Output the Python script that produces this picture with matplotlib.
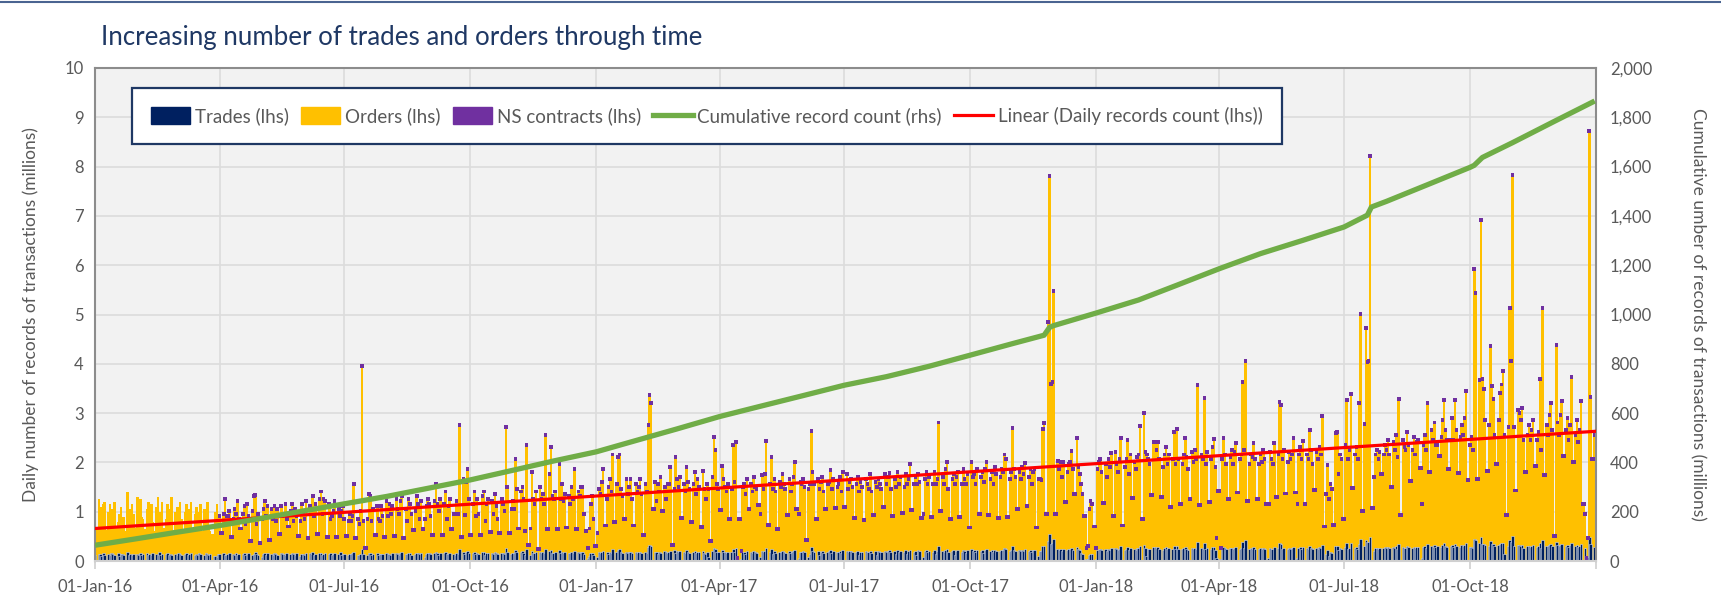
import numpy as np
import pandas as pd
import matplotlib
matplotlib.use("Agg")
import matplotlib.pyplot as plt
import matplotlib.dates as mdates
from matplotlib.patches import Patch
from matplotlib.lines import Line2D
from matplotlib.ticker import MultipleLocator, FuncFormatter

plt.rcParams['font.family'] = ['Lato', 'DejaVu Sans']

# daily records count on business days (millions), one sub-list per month
total_2016 = [
    [0.7,1.25,1.1,0.9,1.15,1.2,1.0,1.15,0.85,1.05,1.2,0.8,0.95,1.1,0.75,0.9,1.4,1.05,0.9,1.15,0.95],
    [1.3,1.0,1.25,0.9,0.85,1.05,1.2,0.95,1.15,0.8,1.1,1.3,0.9,1.0,1.2,0.85,1.15,1.05,0.9,1.3,1.0],
    [1.1,0.95,1.2,0.85,1.0,1.15,0.9,1.05,1.2,0.95,1.1,0.8,1.0,1.15,1.05,0.9,1.2,0.7,0.6,0.5,1.0,1.15,0.95],
    [0.95,1.0,1.3,0.95,0.95,1.05,0.9,1.1,1.0,1.25,0.9,1.0,1.15,0.8,1.2,0.95,1.05,1.35,1.38,0.8,1.0],
    [0.9,1.1,1.25,0.95,1.15,1.1,0.9,1.15,0.85,1.1,1.15,0.95,1.0,1.2,0.9,1.05,1.2,0.85,1.1,0.95,0.85,1.2],
    [1.0,0.9,1.25,1.15,1.1,1.35,0.95,1.2,1.3,1.45,1.0,1.3,1.25,1.2,0.9,0.95,1.05,1.25,1.1,0.95,1.05,1.15],
    [0.9,0.85,1.0,0.85,0.95,1.6,0.9,0.8,1.05,4.0,0.85,0.9,1.4,1.35,0.85,1.1,1.15,0.9,0.85,1.15,0.95],
    [1.25,0.95,1.2,1.0,1.15,1.3,1.1,1.0,1.25,1.35,1.1,0.85,1.3,1.2,1.0,1.05,1.35,1.2,0.9,1.25,0.9,1.15,1.3],
    [1.2,0.95,1.25,1.6,1.2,1.05,1.3,1.2,1.45,0.9,1.15,1.3,1.0,1.0,1.25,1.0,2.8,1.7,0.98,1.65,1.9,1.3],
    [1.2,1.45,0.95,1.3,1.0,1.35,1.45,0.85,1.2,1.3,1.25,1.0,1.4,1.15,0.9,1.3,1.2,1.05,2.75,1.55,1.1],
    [1.25,1.1,2.1,1.5,1.45,1.55,1.3,0.65,2.4,0.7,1.85,1.3,1.2,1.45,1.55,1.3,1.4,1.2,2.6,1.8,2.35,1.35],
    [1.3,1.45,2.0,1.3,1.6,1.25,1.4,1.35,1.2,1.55,1.3,1.9,1.45,1.35,1.55,1.55,1.0,0.3,0.7,1.2,1.35,0.9],
]
total_2017 = [
    [0.6,1.5,1.4,1.65,1.9,1.3,1.55,1.7,1.45,2.2,1.6,2.15,2.2,1.5,1.35,1.7,1.4,1.55,1.7,1.3,1.6,1.45],
    [1.55,1.7,1.4,1.6,1.45,2.8,3.4,3.25,1.65,1.25,1.6,1.45,1.75,1.55,1.3,1.6,1.6,1.95,1.5,2.15],
    [1.7,1.55,1.75,1.6,1.45,1.94,1.65,1.5,1.6,1.85,1.4,1.7,1.55,1.86,1.5,1.3,1.6,1.5,1.75,2.55,2.3,1.6,1.5],
    [1.96,1.7,1.55,1.45,1.6,1.5,2.4,1.65,2.45,0.1,0.25,1.55,1.6,1.4,1.7,1.6,1.45,1.75,1.55,1.5],
    [1.0,1.78,1.5,1.81,2.47,1.6,2.15,1.5,1.7,1.45,1.65,1.55,1.8,1.6,1.5,1.7,1.45,1.6,1.75,2.05,1.0,1.65,1.6],
    [1.7,1.55,1.5,1.6,2.67,1.85,1.6,1.7,1.5,1.65,1.75,1.45,1.6,1.65,1.88,1.5,1.7,1.55,1.6,1.75,1.45,1.85],
    [1.81,1.5,1.65,1.7,1.55,1.6,1.75,1.45,1.65,1.55,1.7,1.6,1.5,1.8,1.45,1.65,1.55,1.7,1.6,1.5,1.8],
    [1.6,1.75,1.83,1.5,1.7,1.55,1.85,1.6,1.75,1.55,1.8,1.6,1.7,2.0,1.6,1.75,1.6,1.8,1.65,1.0,1.7,1.85,1.6],
    [1.75,1.6,1.85,1.6,1.7,2.85,1.75,1.6,1.9,2.05,1.5,1.7,1.8,1.6,1.75,1.85,1.6,1.9,1.7,1.6,1.8],
    [2.05,1.75,1.8,1.6,1.9,1.75,1.85,1.65,1.9,2.05,1.7,1.85,1.6,1.95,1.8,1.75,1.9,1.85,2.2,2.1,1.7,1.85],
    [2.73,1.9,1.75,1.85,1.7,1.95,1.8,2.02,1.75,1.9,1.6,1.85,1.9,1.7,1.7,1.68,2.72,2.83,4.88,7.85,3.64,3.68],
    [5.51,2.07,1.9,2.05,1.75,2.05,1.85,2.0,2.05,2.27,1.9,2.54,1.95,1.8,1.6,1.4,0.3,0.35,1.1,1.25,1.2],
]
total_2018 = [
    [0.3,1.9,2.04,2.1,1.85,2.0,1.75,2.1,1.95,2.24,2.26,2.0,1.85,2.1,2.54,1.95,2.1,2.5,1.8,2.2,2.05,1.9,2.15],
    [2.2,2.77,3.04,2.26,2.2,2.1,2.0,2.46,2.45,2.3,2.46,2.1,1.95,2.2,2.35,2.0,2.2,2.1,2.66,2.0],
    [2.72,2.1,2.0,2.2,2.53,2.15,1.9,2.25,2.05,2.3,2.1,3.61,2.2,2.1,3.34,2.0,2.25,2.1,2.35,2.52,1.95,0.5],
    [0.3,2.1,2.53,2.2,2.0,2.15,2.3,2.0,2.25,2.43,2.1,2.2,3.68,2.3,4.1,2.0,2.2,2.15,2.43,2.1,2.0],
    [2.2,2.05,2.3,2.1,1.2,2.25,2.1,2.0,2.44,2.2,3.27,3.2,2.1,2.3,2.05,2.25,2.1,2.2,2.53,1.2,2.2,2.35,2.1],
    [2.48,2.2,2.1,2.7,2.3,2.0,2.25,2.1,2.35,2.2,2.99,1.4,1.99,1.3,1.6,1.5,2.63,2.66,1.8,2.2,2.1],
    [2.4,3.31,2.1,2.3,3.42,2.2,2.35,2.1,3.25,5.05,2.81,4.76,4.07,4.1,8.25,1.74,2.2,2.3,2.1,2.25,2.2,2.4],
    [2.3,2.5,2.2,2.45,2.3,2.6,2.15,3.33,2.5,2.35,2.3,2.65,2.4,2.3,2.55,2.2,2.45,2.5,1.2,2.4,2.6,2.3,3.25],
    [2.7,2.5,2.85,2.4,2.4,2.55,2.9,3.3,2.7,2.5,2.5,2.95,2.5,3.3,2.7,2.55,2.8,2.6,2.95,3.49],
    [2.4,2.55,2.3,5.96,5.47,3.72,6.95,3.74,3.52,2.9,2.8,4.4,3.59,3.32,2.6,2.9,3.45,3.62,3.9,2.6,2.75,5.18,4.1],
    [7.86,2.76,3.1,3.05,2.9,3.15,2.5,2.6,2.8,2.5,2.7,2.9,2.5,2.65,3.74,2.3,5.18,2.8,2.6,3.0,3.25,2.7],
    [4.42,2.85,2.6,3.0,3.28,2.7,2.95,2.5,2.8,3.77,2.6,2.9,2.45,2.7,3.28,1.0,0.1,0.5,8.77,3.37,2.6],
]

# weekend records count (millions), one value per Saturday (used for Sat and Sun)
weekend_2016 = [
    [0.65,0.62,0.68,0.6,0.66], [0.64,0.6,0.67,0.63], [0.62,0.66,0.6,0.55],
    [0.6,0.53,0.7,0.44,0.4], [0.46,0.59,0.74,0.54], [0.5,0.59,0.53,0.53],
    [0.55,0.5,0.3,0.57,0.53], [0.55,0.51,0.66,0.69], [0.56,0.57,0.69,0.52],
    [0.56,0.57,0.63,0.61,0.6], [0.7,0.36,0.29,0.69], [0.69,0.72,0.68,0.65,0.35],
]
weekend_2017 = [
    [0.76,0.83,0.89,0.76], [0.57,1.1,1.05,0.37], [0.92,0.83,0.73,0.45],
    [1.07,0.9,0.9,1.1,1.17], [0.78,0.68,0.97,1.1], [0.46,0.9,1.1,1.12],
    [1.14,0.92,0.88,0.97,1.14], [0.95,1.02,1.07,0.92], [0.94,1.05,0.9,0.94,0.72],
    [0.99,0.97,0.92,0.94], [1.09,1.16,0.72,1.0], [1.0,1.23,1.4,0.95,0.74],
]
weekend_2018 = [
    [1.21,0.95,0.76,1.31], [0.9,1.37,1.33,1.13], [1.2,1.3,1.17,1.23,1.46],
    [1.3,1.43,1.26,1.3], [1.2,1.33,1.41,1.43], [1.2,1.48,0.74,0.77,0.9],
    [1.52,1.05,1.12,1.81], [1.54,0.98,1.67,1.93], [1.84,2.17,1.9,1.83,1.68],
    [1.7,1.86,2.0,0.97], [1.47,1.84,1.96,1.79], [0.54,2.17,2.05,1.2,2.1],
]

# trades on business days (hundredths of a million), same layout as the totals
trades_2016 = [
    [12,15,14,11,16,13,15,12,17,14,13,16,11,15,14,12,18,13,15,12,14],
    [15,13,16,12,14,17,13,15,12,16,14,13,18,12,15,14,16,13,15,12,14],
    [13,16,14,12,15,17,13,14,16,12,15,13,17,14,12,16,14,13,15,11,10,8,14],
    [14,16,13,12,15,17,14,13,16,12,15,14,17,13,15,16,12,14,18,15,13],
    [9,15,17,12,16,14,13,16,15,12,17,14,15,13,16,14,17,15,13,16,10,15],
    [15,13,17,16,14,18,12,15,16,17,13,15,16,14,17,13,15,16,14,18,12,15],
    [14,13,15,14,16,19,13,12,15,25,14,13,17,16,12,15,16,13,14,15,14],
    [16,14,15,12,16,17,15,13,16,18,15,14,17,16,12,15,17,16,14,16,8,15,17],
    [16,14,17,19,16,13,17,16,18,14,15,17,15,13,16,15,24,19,14,18,20,16],
    [17,19,15,17,14,18,19,13,16,17,16,15,18,16,14,17,16,15,26,19,15],
    [17,16,22,19,18,20,17,12,25,13,21,17,16,18,19,17,18,16,24,20,23,17],
    [17,18,22,16,19,17,18,17,16,19,17,21,18,17,19,19,14,6,10,16,17,13],
]
trades_2017 = [
    [9,18,17,19,21,18,15,19,17,24,18,23,24,18,16,19,17,18,19,16,18,17],
    [18,19,17,18,17,28,32,31,18,19,14,18,17,20,18,16,18,20,22,17],
    [20,18,20,19,17,22,19,17,18,21,16,19,18,21,17,14,19,8,20,27,24,19,18],
    [22,19,18,17,19,18,25,19,26,3,5,18,19,15,20,19,17,20,18,17],
    [8,20,18,21,27,19,24,14,20,17,19,18,21,19,17,20,17,19,21,23,7,19,18],
    [20,18,9,15,29,21,19,20,13,19,21,17,19,20,22,17,20,18,19,21,17,22],
    [21,18,20,20,18,19,21,12,19,18,20,19,18,21,17,20,13,20,19,18,21],
    [19,21,22,18,20,15,22,19,21,18,22,14,20,23,19,21,13,22,20,8,20,22,19],
    [21,19,22,15,20,31,21,19,22,24,18,20,22,13,21,22,19,23,20,16,22],
    [24,21,22,19,23,21,22,16,23,24,20,22,19,23,21,21,23,22,26,25,20,22],
    [30,23,21,22,20,23,21,24,21,23,19,22,23,10,20,20,30,31,40,55,35,36],
    [45,24,23,25,21,24,22,24,25,27,23,29,24,22,16,14,4,5,13,15,14],
]
trades_2018 = [
    [4,23,24,25,22,24,21,25,23,26,27,24,22,25,30,23,25,29,22,26,24,23,26],
    [26,31,33,27,11,25,24,29,28,27,29,25,23,26,28,24,26,25,31,24],
    [31,25,24,26,29,25,23,27,24,27,25,38,26,25,36,24,27,25,28,29,23,7],
    [4,25,29,26,24,26,27,24,27,28,25,26,38,27,42,24,26,25,28,25,24],
    [26,24,27,25,7,27,25,24,28,26,36,35,25,27,24,27,25,26,29,7,26,28,25],
    [29,26,25,31,27,24,27,25,28,26,33,14,23,10,18,16,30,31,22,26,25],
    [28,36,25,27,37,26,28,25,35,45,31,42,38,39,48,21,26,27,25,27,26,28],
    [27,29,26,28,27,30,25,35,29,27,26,30,28,27,29,26,28,29,7,28,30,27,34],
    [31,29,32,28,30,29,32,36,31,29,30,33,29,35,31,29,32,30,33,37],
    [28,29,27,45,42,36,48,35,34,32,31,40,35,34,30,32,35,36,37,14,31,43,38],
    [50,31,33,32,31,33,27,30,31,28,30,32,29,30,36,27,42,31,30,33,34,31],
    [39,32,30,33,34,31,33,29,32,37,30,32,28,31,34,26,3,8,48,35,29],
]

# NS contracts per day (millions), one value per month
ns_monthly = [0, 0, 0] + [0.08] * 33

# cumulative record count (rhs, millions)
cum_dates = ['2016-01-01', '2016-02-01', '2016-03-01', '2016-04-01', '2016-05-01', '2016-06-01',
             '2016-07-01', '2016-08-01', '2016-09-01', '2016-10-01', '2016-11-01', '2016-12-01',
             '2017-01-01', '2017-02-01', '2017-03-01', '2017-04-01', '2017-05-01', '2017-06-01',
             '2017-07-01', '2017-08-01', '2017-09-01', '2017-10-01', '2017-11-01', '2017-11-24',
             '2017-11-28', '2017-12-01', '2018-01-01', '2018-02-01', '2018-03-01', '2018-04-01',
             '2018-05-01', '2018-06-01', '2018-07-01', '2018-07-18', '2018-07-21', '2018-08-01',
             '2018-09-01', '2018-10-01', '2018-10-04', '2018-10-10', '2018-11-01', '2018-12-01',
             '2018-12-31']
cum_values = [64, 91, 117, 144, 173, 203, 232, 262, 296, 329, 368, 406,
              443, 492, 536, 586, 628, 671, 713, 748, 790, 835, 882, 916,
              948, 955, 1006, 1059, 1119, 1186, 1247, 1301, 1355, 1403, 1436, 1459,
              1529, 1597, 1605, 1637, 1697, 1782, 1866]

# linear trend of daily records count (lhs)
trend_dates = ['2016-01-01', '2018-12-31']
trend_values = [0.66, 2.63]

years = [2016, 2017, 2018]
totals = [total_2016, total_2017, total_2018]
trades = [trades_2016, trades_2017, trades_2018]
weekends = [weekend_2016, weekend_2017, weekend_2018]

rows = []
for yi, yr in enumerate(years):
    for m in range(12):
        start = pd.Timestamp(yr, m + 1, 1)
        end = start + pd.offsets.MonthEnd(0)
        ns = ns_monthly[yi * 12 + m]
        days = pd.bdate_range(start, end)
        for d, v, t in zip(days, totals[yi][m], trades[yi][m]):
            rows.append((d, v, t / 100, ns))
        sats = pd.date_range(start, end, freq='W-SAT')
        for s, v in zip(sats, weekends[yi][m]):
            rows.append((s, v, 0.0, ns))
            rows.append((s + pd.Timedelta(days=1), v, 0.0, ns))

df = pd.DataFrame(rows, columns=['date', 'total', 'trades', 'ns']).sort_values('date')
df['orders'] = (df['total'] - df['trades'] - df['ns']).clip(lower=0)
x = mdates.date2num(df['date'])

navy = '#002060'
gold = '#FFC000'
purple = '#7030A0'
green = '#70AD47'
red = '#FF0000'
grey_txt = '#595959'

fig = plt.figure(figsize=(17.21, 5.99), dpi=100)
ax = fig.add_axes([0.0552, 0.0634, 0.8722, 0.8231])
ax.set_facecolor('#F2F2F2')

w = 2.0
ax.bar(x, df['orders'], bottom=df['trades'], width=w, color=gold, linewidth=0)
ax.bar(x, df['trades'], width=w, color=navy, edgecolor='#DDE3EE', linewidth=0.4)
ax.bar(x, df['ns'], bottom=df['trades'] + df['orders'], width=2.6, color=purple, linewidth=0)
ax.plot(mdates.date2num(pd.to_datetime(trend_dates)), trend_values, color=red, lw=2.3, zorder=5)

ax.set_xlim(mdates.date2num(pd.Timestamp('2016-01-01')), mdates.date2num(pd.Timestamp('2019-01-01')))
ax.set_ylim(0, 10)
ax.yaxis.set_major_locator(MultipleLocator(1))
qticks = pd.date_range('2016-01-01', '2019-01-01', freq='QS')
ax.set_xticks(mdates.date2num(qticks))
ax.set_xticklabels([d.strftime('%d-%b-%y') for d in qticks[:-1]] + [''])
ax.grid(True, color='#DCDCDC', lw=1.2)
ax.set_axisbelow(True)
ax.tick_params(axis='y', length=0, labelsize=12, labelcolor=grey_txt, pad=8)
ax.tick_params(axis='x', length=6, color='#D0D0D0', width=1.2, labelsize=12, labelcolor=grey_txt, pad=7)
for s in ['left', 'top', 'right']:
    ax.spines[s].set_color('#8C8C8C')
    ax.spines[s].set_linewidth(1.5)
ax.spines['bottom'].set_color('#D0D0D0')
ax.spines['bottom'].set_linewidth(1.5)
ax.set_ylabel('Daily number of records of transactions (millions)', fontsize=12.5, color=grey_txt)
ax.yaxis.set_label_coords(-0.037, 0.5)

ax2 = ax.twinx()
ax2.plot(mdates.date2num(pd.to_datetime(cum_dates)), cum_values, color=green, lw=3.8,
         solid_capstyle='butt', solid_joinstyle='round')
ax2.set_ylim(0, 2000)
ax2.yaxis.set_major_locator(MultipleLocator(200))
ax2.yaxis.set_major_formatter(FuncFormatter(lambda v, p: f'{int(v):,}'))
ax2.tick_params(axis='y', length=0, labelsize=12, labelcolor=grey_txt, pad=10)
for s in ax2.spines.values():
    s.set_visible(False)
ax2.set_ylabel('Cumulative umber of records of transactions (millions)', fontsize=12.5,
               color=grey_txt, rotation=270, va='bottom')
ax2.yaxis.set_label_coords(1.0626, 0.5)

handles = [Patch(color=navy), Patch(color=gold), Patch(color=purple),
           Line2D([], [], color=green, lw=3.8), Line2D([], [], color=red, lw=2.3)]
labels = ['Trades (lhs)', 'Orders (lhs)', 'NS contracts (lhs)',
          'Cumulative record count (rhs)', 'Linear (Daily records count (lhs))']
leg = ax2.legend(handles, labels, loc='upper left', bbox_to_anchor=(0.0247, 0.959), ncol=5,
                 borderaxespad=0, fontsize=13.5, frameon=True, fancybox=False, framealpha=1,
                 borderpad=1.0, handlelength=2.1, handleheight=0.95, handletextpad=0.25,
                 columnspacing=0.65, labelcolor=grey_txt)
leg.get_frame().set_edgecolor('#1F3864')
leg.get_frame().set_linewidth(1.6)

fig.text(0.0587, 0.9366, 'Increasing number of trades and orders through time',
         fontsize=18.6, color='#1F3864', va='center', ha='left')
fig.add_artist(Line2D([0, 1], [0.996, 0.996], transform=fig.transFigure, color='#4A6491', lw=1.5))

fig.savefig('out.png', dpi=100)
